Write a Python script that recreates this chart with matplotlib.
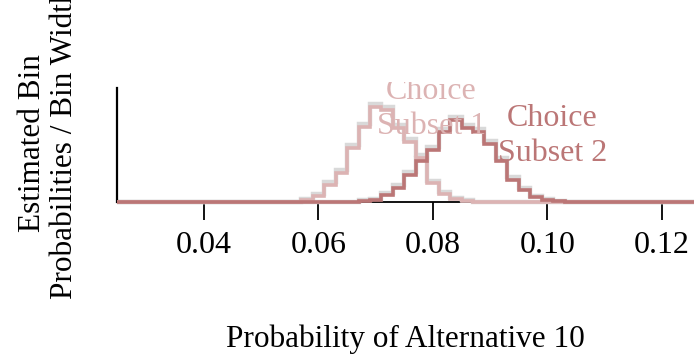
import matplotlib
matplotlib.use("Agg")
import matplotlib.pyplot as plt
import numpy as np

plt.rcParams['font.family'] = ['Liberation Serif', 'DejaVu Serif']

# bin centres (width 0.002) and estimated density per bin
subset1_centers = [0.058, 0.060, 0.062, 0.064, 0.066, 0.068, 0.070, 0.072,
                   0.074, 0.076, 0.078, 0.080, 0.082, 0.084, 0.086]
subset1_density = [1.7, 5.2, 14.7, 25.0, 46.5, 64.7, 81.9, 79.3,
                   63.8, 51.7, 37.9, 16.4, 6.9, 2.6, 0.9]
subset1_grey = [2.3, 6.8, 17.0, 27.8, 49.2, 67.4, 84.6, 82.0,
                66.4, 54.2, 40.2, 18.4, 8.2, 3.4, 1.4]

subset2_centers = [0.068, 0.070, 0.072, 0.074, 0.076, 0.078, 0.080, 0.082, 0.084,
                   0.086, 0.088, 0.090, 0.092, 0.094, 0.096, 0.098, 0.100, 0.102]
subset2_density = [0.9, 1.7, 6.0, 12.1, 23.3, 35.3, 44.8, 60.3, 70.7,
                   63.8, 60.3, 50.0, 35.3, 19.0, 10.3, 4.3, 1.7, 0.9]
subset2_grey = [1.3, 2.4, 7.6, 14.4, 25.8, 37.9, 47.4, 63.0, 73.4,
                66.5, 62.9, 52.6, 37.8, 21.2, 12.0, 5.4, 2.3, 1.2]

bin_width = 0.002
xlim = (0.0248, 0.1256)
ylim = (-6.9, 103.4)
xticks = [0.04, 0.06, 0.08, 0.10, 0.12]

col1 = '#dcb3b3'
col2 = '#bb7676'
grey = '#d9d9d9'
fs = 23


def stair_data(centers, dens):
    c = np.asarray(centers)
    edges = np.concatenate([[xlim[0]], c - bin_width / 2, [c[-1] + bin_width / 2, xlim[1]]])
    vals = np.concatenate([[0], dens, [0]])
    return vals, edges


fig = plt.figure(figsize=(6.94, 3.56), dpi=100)
ax = fig.add_axes([117 / 694, 1 - 210 / 356, 577 / 694, 128 / 356])

for cen, g in [(subset1_centers, subset1_grey), (subset2_centers, subset2_grey)]:
    v, e = stair_data(cen, g)
    ax.stairs(v, e, color=grey, linewidth=3.2, zorder=2)

v1, e1 = stair_data(subset1_centers, subset1_density)
v2, e2 = stair_data(subset2_centers, subset2_density)
ax.stairs(v1, e1, color=col1, linewidth=2.6, zorder=3)
ax.stairs(v2, e2, color=col2, linewidth=2.6, zorder=4)

ax.text(0.0797, 80.0, "Choice\nSubset 1", color=col1, fontsize=fs, ha='center',
        va='center', linespacing=1.3, clip_on=True, zorder=5)
ax.text(0.1009, 57.0, "Choice\nSubset 2", color=col2, fontsize=fs, ha='center',
        va='center', linespacing=1.3, clip_on=True, zorder=5)

ax.set_xlim(*xlim)
ax.set_ylim(*ylim)

ax.spines['top'].set_visible(False)
ax.spines['right'].set_visible(False)
ax.spines['left'].set_bounds(0, 98.3)
ax.spines['left'].set_linewidth(1.6)
ax.spines['bottom'].set_position(('data', 0))
ax.spines['bottom'].set_bounds(xticks[0], xticks[-1])
ax.spines['bottom'].set_linewidth(1.3)
ax.spines['bottom'].set_zorder(1)

ax.set_yticks([])
ax.set_xticks(xticks)
ax.set_xticklabels(['%.2f' % t for t in xticks])
ax.tick_params(axis='x', direction='out', length=13, width=1.3, pad=8, labelsize=fs)

ax.set_xlabel("Probability of Alternative 10", fontsize=22.5, labelpad=46)
ax.set_ylabel("Estimated Bin\nProbabilities / Bin Width", fontsize=22.5, labelpad=27,
              linespacing=1.15)
ax.yaxis.label.set_y(0.52)

fig.savefig("out.png", dpi=100)
